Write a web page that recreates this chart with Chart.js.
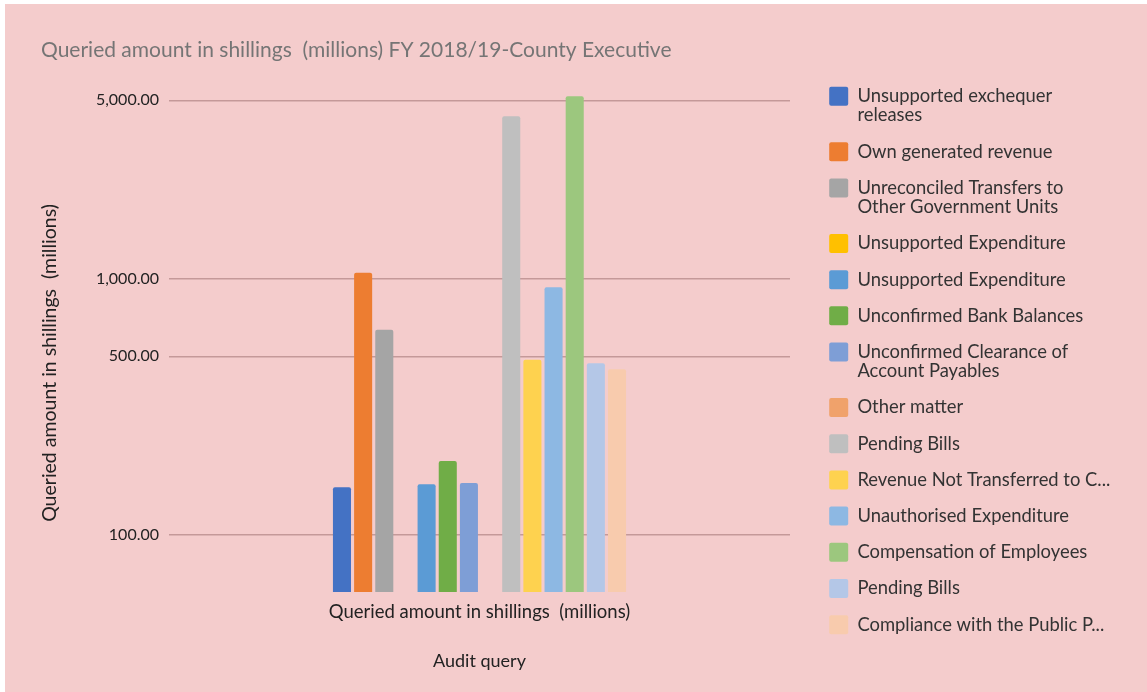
<!DOCTYPE html>
<html>
<head>
<meta charset="utf-8">
<title>Queried amount in shillings (millions) FY 2018/19-County Executive</title>
<script src="https://cdn.jsdelivr.net/npm/chart.js@4"></script>
<style>
    html, body { margin: 0; padding: 0; background: #ffffff; }
    #wrap {
        position: absolute;
        left: 5px;
        top: 4px;
        width: 1142px;
        height: 688px;
        background: #f4cccc;
    }
</style>
</head>
<body>
<div id="wrap"><canvas id="chart"></canvas></div>
<script>
// الفئة الوحيدة على المحور الأفقي
const categories = ['Queried amount in shillings  (millions)'];

// أسماء السلاسل كما في وسيلة الإيضاح
const seriesNames = [
    ['Unsupported exchequer', 'releases'],
    'Own generated revenue',
    ['Unreconciled Transfers to', 'Other Government Units'],
    'Unsupported Expenditure',
    'Unsupported Expenditure',
    'Unconfirmed Bank Balances',
    ['Unconfirmed Clearance of', 'Account Payables'],
    'Other matter',
    'Pending Bills',
    'Revenue Not Transferred to C...',
    'Unauthorised Expenditure',
    'Compensation of Employees',
    'Pending Bills',
    'Compliance with the Public P...'
];

// القيم (ملايين) - null حيث لا يوجد عمود
const seriesValues = [154, 1060, 635, null, 158, 195, 160, null, 4330, 485, 930, 5180, 470, 445];

const seriesColors = [
    '#4472c4', '#ed7d31', '#a5a5a5', '#ffc000', '#5b9bd5', '#70ad47', '#7e9ed6',
    '#f0a26b', '#bfbfbf', '#fed24f', '#8db8e3', '#9cc77e', '#b4c7e7', '#f8cbad'
];

const yTicks = [100, 500, 1000, 5000];

const FONT = 'Lato';
const yTitleText = 'Queried amount in shillings  (millions)';
const LEGEND_LEFT = 807;

const datasets = seriesNames.map((name, i) => ({
    label: name,
    data: [seriesValues[i]],
    backgroundColor: seriesColors[i],
    borderRadius: { topLeft: 2, topRight: 2 },
    borderSkipped: 'start',
    categoryPercentage: 0.477,
    barPercentage: 0.853
}));

// عنوان المحور العمودي (مرسوم يدويا لضبط موضعه)
const yTitlePlugin = {
    id: 'yTitle',
    afterDraw(chart) {
        const ctx = chart.ctx;
        ctx.save();
        ctx.translate(45, 359);
        ctx.rotate(-Math.PI / 2);
        ctx.font = '19.5px ' + FONT;
        ctx.fillStyle = '#222222';
        ctx.textAlign = 'center';
        ctx.textBaseline = 'middle';
        ctx.fillText(yTitleText, 0, 0);
        ctx.restore();
    }
};

const chart = new Chart(document.getElementById('chart'), {
    type: 'bar',
    data: {
        labels: categories,
        datasets: datasets
    },
    plugins: [yTitlePlugin],
    options: {
        responsive: true,
        maintainAspectRatio: false,
        animation: false,
        layout: {
            padding: { left: 36, top: 21, right: 0, bottom: 20.2 }
        },
        plugins: {
            title: {
                display: true,
                text: 'Queried amount in shillings  (millions) FY 2018/19-County Executive',
                align: 'start',
                color: '#757575',
                font: { family: FONT, size: 21, weight: 'normal' },
                padding: { top: 12.4, bottom: 7 }
            },
            legend: {
                position: 'right',
                align: 'start',
                title: {
                    display: true,
                    text: '',
                    font: { family: FONT, size: 10, lineHeight: 1 },
                    padding: { top: 34.6, bottom: 0 }
                },
                labels: {
                    boxWidth: 19,
                    boxHeight: 19,
                    padding: 17.2,
                    useBorderRadius: true,
                    borderRadius: 2,
                    color: '#333333',
                    font: { family: FONT, size: 18.4, lineHeight: 1.04 }
                }
            },
            tooltip: { enabled: false }
        },
        scales: {
            x: {
                grid: { display: false, drawTicks: false },
                border: { display: false },
                ticks: {
                    padding: 8.9,
                    color: '#222222',
                    font: { family: FONT, size: 18.5 }
                },
                title: {
                    display: true,
                    text: 'Audit query',
                    color: '#222222',
                    font: { family: FONT, size: 18 },
                    padding: 0
                },
                afterFit: (scale) => { scale.height = 79.8; }
            },
            y: {
                type: 'logarithmic',
                min: 60,
                max: 6588,
                grid: { color: '#c49999', lineWidth: 1.5, drawTicks: false },
                border: { display: false },
                ticks: {
                    padding: 10,
                    color: '#222222',
                    font: { family: FONT, size: 16 },
                    callback: (v) => Number(v).toLocaleString('en-US', { minimumFractionDigits: 2, maximumFractionDigits: 2 })
                },
                afterBuildTicks: (scale) => {
                    scale.ticks = yTicks.map(v => ({ value: v }));
                },
                afterFit: (scale) => { scale.width = 128; }
            },
            // فراغ بين منطقة الرسم ووسيلة الإيضاح
            spacer: {
                type: 'linear',
                position: 'right',
                display: true,
                grid: { display: false, drawTicks: false },
                border: { display: false },
                ticks: { display: false },
                afterFit: (scale) => { scale.width = 22; }
            }
        }
    }
});

// عرض ثابت لوسيلة الإيضاح حتى تبدأ عند x = 807
const legendFit = chart.legend.fit;
chart.legend.fit = function () {
    legendFit.call(this);
    this.width = chart.width - LEGEND_LEFT;
};
chart.update();
</script>
</body>
</html>
